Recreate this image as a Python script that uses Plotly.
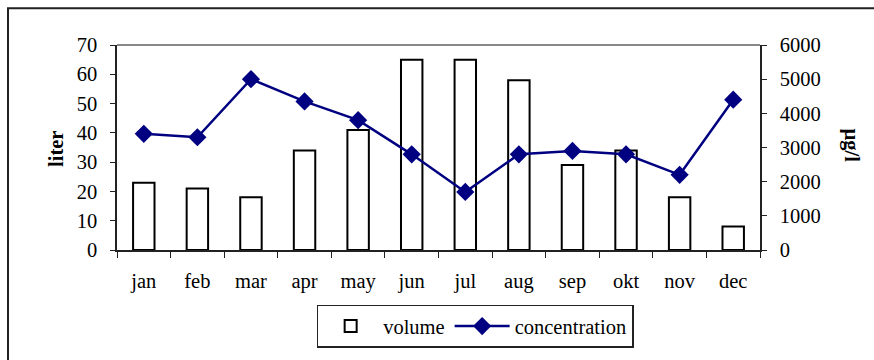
import plotly.graph_objects as go

months = ["jan", "feb", "mar", "apr", "may", "jun", "jul", "aug", "sep", "okt", "nov", "dec"]
volume = [23, 21, 18, 34, 41, 65, 65, 58, 29, 34, 18, 8]
concentration = [3400, 3300, 5000, 4350, 3800, 2800, 1700, 2800, 2900, 2800, 2200, 4400]

serif = "Liberation Serif"
navy = "#000080"
fsize = 20.5

fig = go.Figure()

fig.add_trace(go.Bar(
    x=months, y=volume, name="volume",
    marker=dict(color="white", line=dict(color="black", width=2)),
    yaxis="y",
))

fig.add_trace(go.Scatter(
    x=months, y=concentration, name="concentration",
    mode="lines+markers",
    line=dict(color=navy, width=2.5),
    marker=dict(symbol="diamond", size=14, color=navy),
    yaxis="y2",
))

axis_common = dict(
    showgrid=False, zeroline=False, showline=True,
    linecolor="#222", linewidth=1.5,
    ticks="outside", tickcolor="#222",
    tickfont=dict(family=serif, size=fsize, color="black"),
)

fig.update_layout(
    width=874, height=360,
    margin=dict(l=117, r=114, t=45, b=108),
    paper_bgcolor="white", plot_bgcolor="white",
    bargap=0.6,
    showlegend=True,
    font=dict(family=serif, size=fsize, color="black"),
    xaxis=dict(**axis_common, tickson="boundaries", ticklen=6,
               range=[-0.5, 11.5], ticklabelstandoff=12),
    yaxis=dict(**axis_common, range=[0, 70], dtick=10, ticklen=5,
               ticklabelstandoff=9),
    yaxis2=dict(**axis_common, range=[0, 6000], dtick=1000, ticklen=5,
                overlaying="y", side="right", ticklabelstandoff=9),
    legend=dict(
        orientation="h", x=0.557, y=-0.372,
        xanchor="center", yanchor="middle",
        bordercolor="#222", borderwidth=1.5,
        font=dict(family=serif, size=fsize, color="black"),
        itemwidth=55,
    ),
    annotations=[
        dict(text="<b>liter</b>", xref="paper", yref="paper",
             x=-0.0957, y=0.495, xanchor="center", yanchor="middle",
             textangle=-90, showarrow=False,
             font=dict(family=serif, size=fsize, color="black")),
        dict(text="<b>µg/l</b>", xref="paper", yref="paper",
             x=1.143, y=0.51, xanchor="center", yanchor="middle",
             textangle=90, showarrow=False,
             font=dict(family=serif, size=fsize, color="black")),
    ],
    shapes=[
        # gray top border of the plot area
        dict(type="line", xref="paper", yref="paper",
             x0=0, x1=1, y0=1, y1=1,
             line=dict(color="#888", width=2)),
        # outer chart frame
        dict(type="rect", xref="paper", yref="paper",
             x0=-0.1695, x1=1.5, y0=-1.0, y1=1.1787,
             line=dict(color="#222", width=2)),
    ],
)

fig.write_html("out.html")
